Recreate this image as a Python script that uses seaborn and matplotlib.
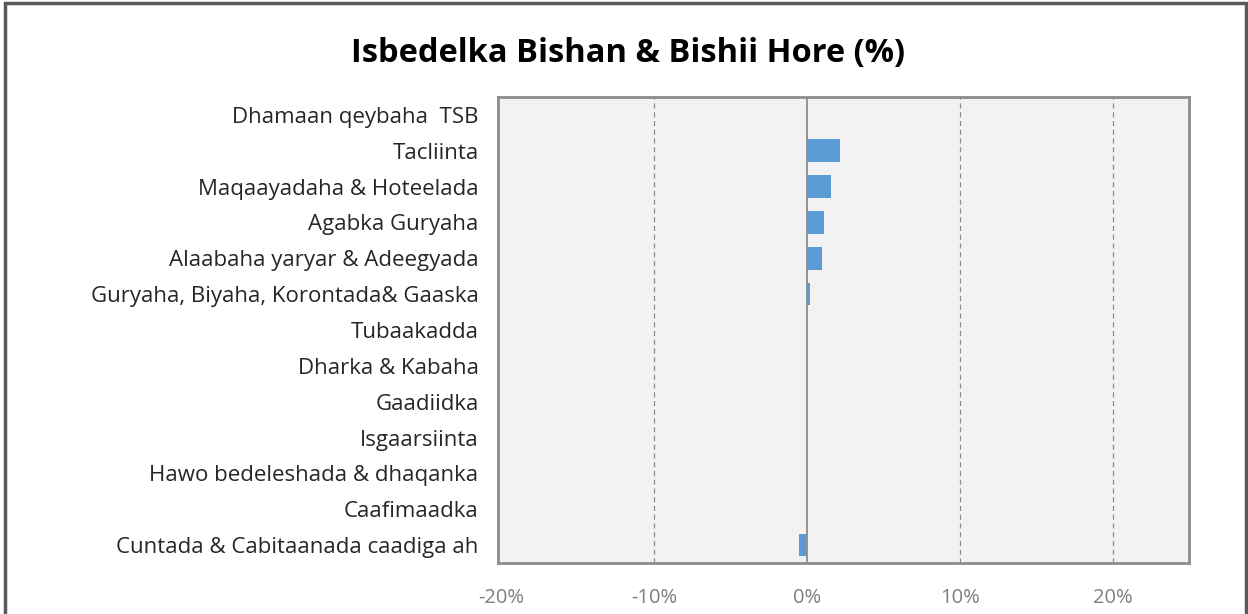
import pandas as pd
import matplotlib.pyplot as plt
import matplotlib.ticker as mticker
import seaborn as sns

categories = [
    'Dhamaan qeybaha  TSB',
    'Tacliinta',
    'Maqaayadaha & Hoteelada',
    'Agabka Guryaha',
    'Alaabaha yaryar & Adeegyada',
    'Guryaha, Biyaha, Korontada& Gaaska',
    'Tubaakadda',
    'Dharka & Kabaha',
    'Gaadiidka',
    'Isgaarsiinta',
    'Hawo bedeleshada & dhaqanka',
    'Caafimaadka',
    'Cuntada & Cabitaanada caadiga ah',
]
values = [0.0, 0.0216, 0.0157, 0.011, 0.010, 0.002, 0.0, 0.0, 0.0, 0.0, 0.0, 0.0, -0.005]
x_ticks = [-0.2, -0.1, 0.0, 0.1, 0.2]

df = pd.DataFrame({'category': categories, 'value': values})

sns.set_style('white')
plt.rcParams['font.family'] = ['Open Sans', 'DejaVu Sans']
plt.rcParams['axes.unicode_minus'] = False

fig = plt.figure(figsize=(12.48, 6.14), dpi=100)
ax = fig.add_axes([0.399, 0.083, 0.554, 0.759])
ax.set_facecolor('#f2f2f2')

sns.barplot(data=df, x='value', y='category', orient='h', color='#5b9bd5',
            width=0.63, saturation=1, linewidth=0, ax=ax, zorder=3)

ax.set_xlim(-0.202, 0.25)
ax.set_xticks(x_ticks)
ax.xaxis.set_major_formatter(mticker.PercentFormatter(1.0, decimals=0))
for t in [-0.1, 0.1, 0.2]:
    ax.axvline(t, color='#8c8c8c', linestyle=(0, (4, 3)), linewidth=0.9, zorder=1)
ax.axvline(0, color='#8c8c8c', linewidth=1.3, zorder=4)

for s in ax.spines.values():
    s.set_color('#8c8c8c')
    s.set_linewidth(2)

ax.set_xlabel('')
ax.set_ylabel('')
ax.tick_params(axis='y', length=0, labelsize=16, labelcolor='#262626', pad=14)
ax.tick_params(axis='x', length=0, labelsize=14.5, labelcolor='#7f7f7f', pad=18)

fig.suptitle('Isbedelka Bishan & Bishii Hore (%)', x=0.503, y=0.94,
             fontsize=23.5, fontweight='bold', color='black')

border = plt.Rectangle((0.004, -0.01), 0.994, 1.005, transform=fig.transFigure,
                       fill=False, edgecolor='#595959', linewidth=2.5)
fig.patches.append(border)

fig.savefig('out.png', dpi=100)
plt.close(fig)
